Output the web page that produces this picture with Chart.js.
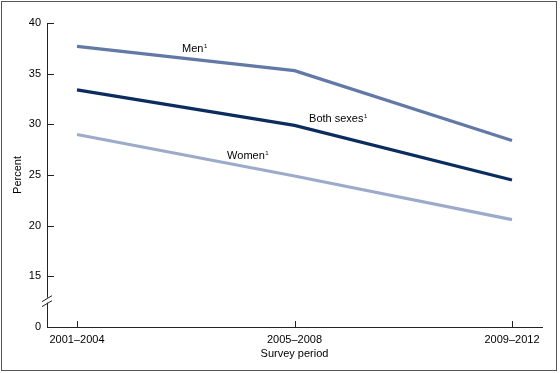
<!DOCTYPE html>
<html>
<head>
<meta charset="utf-8">
<script src="https://cdn.jsdelivr.net/npm/chart.js@4"></script>
<style>
  html, body { margin: 0; padding: 0; background: #fff; }
  #wrap { width: 560px; height: 373px; }
</style>
</head>
<body>
<div id="wrap"><canvas id="chart" width="560" height="373"></canvas></div>
<script>
// Percent by survey period, men / both sexes / women
const periods = ["2001–2004", "2005–2008", "2009–2012"];
const men = [37.7, 35.3, 28.4];
const both = [33.4, 29.9, 24.5];
const women = [29.0, 24.9, 20.6];
const yTicks = [10, 15, 20, 25, 30, 35, 40]; // 10 sits where the broken axis shows 0

const FONT = "'Liberation Sans', Arial, sans-serif";

function pts(vals) {
  return vals.map((v, i) => ({ x: i, y: v }));
}

// Series labels, placed in data units
const seriesLabels = [
  { text: "Men", x: 0.483, y: 37.43 },
  { text: "Both sexes", x: 1.067, y: 30.5 },
  { text: "Women", x: 0.69, y: 26.85 },
];

const decor = {
  id: "decor",
  afterDraw(chart) {
    const ctx = chart.ctx;
    const xs = chart.scales.x;
    const ys = chart.scales.y;
    const area = chart.chartArea;
    ctx.save();

    // frame
    ctx.strokeStyle = "#555";
    ctx.lineWidth = 1;
    ctx.strokeRect(1.5, 1.5, 555, 369);

    // inward ticks
    ctx.strokeStyle = "#222";
    ctx.beginPath();
    yTicks.forEach((v) => {
      if (v === 10) return;
      const y = Math.round(ys.getPixelForValue(v)) + 0.5;
      ctx.moveTo(area.left, y);
      ctx.lineTo(area.left + 7, y);
    });
    periods.forEach((p, i) => {
      const x = Math.round(xs.getPixelForValue(i)) + 0.5;
      ctx.moveTo(x, area.bottom);
      ctx.lineTo(x, area.bottom - 6);
    });
    ctx.stroke();

    // axis break
    const by = ys.getPixelForValue(12.6);
    ctx.fillStyle = "#fff";
    ctx.fillRect(area.left - 2, by - 3, 4, 5);
    ctx.beginPath();
    ctx.moveTo(area.left - 5, by + 1);
    ctx.lineTo(area.left + 5, by - 5);
    ctx.moveTo(area.left - 5, by + 6);
    ctx.lineTo(area.left + 5, by);
    ctx.stroke();

    // series labels with superscript 1
    ctx.fillStyle = "#000";
    ctx.textBaseline = "middle";
    ctx.textAlign = "left";
    seriesLabels.forEach((l) => {
      const x = xs.getPixelForValue(l.x);
      const y = ys.getPixelForValue(l.y);
      ctx.font = "11px " + FONT;
      ctx.fillText(l.text, x, y);
      const w = ctx.measureText(l.text).width;
      ctx.font = "6px " + FONT;
      ctx.fillText("1", x + w + 0.5, y - 3);
    });
    ctx.restore();
  },
};

new Chart(document.getElementById("chart"), {
  type: "line",
  data: {
    datasets: [
      { label: "Men", data: pts(men), borderColor: "#6278a6", borderWidth: 3.2 },
      { label: "Both sexes", data: pts(both), borderColor: "#0b2c5e", borderWidth: 3.2 },
      { label: "Women", data: pts(women), borderColor: "#9dabca", borderWidth: 3.2 },
    ],
  },
  options: {
    responsive: false,
    animation: false,
    layout: { padding: { top: 23, right: 18, left: 0, bottom: 0 } },
    elements: { point: { radius: 0 }, line: { tension: 0, borderCapStyle: "butt" } },
    plugins: { legend: { display: false }, tooltip: { enabled: false } },
    scales: {
      x: {
        type: "linear",
        min: -0.138,
        max: 2.138,
        afterBuildTicks: (s) => { s.ticks = periods.map((p, i) => ({ value: i })); },
        afterFit: (s) => { s.height = 46; },
        grid: { display: false, drawTicks: false },
        border: { display: true, color: "#222", width: 1 },
        ticks: {
          color: "#000",
          font: { family: FONT, size: 11 },
          padding: 6,
          maxRotation: 0,
          autoSkip: false,
          callback: (v) => periods[v] || "",
        },
        title: {
          display: true,
          text: "Survey period",
          color: "#000",
          font: { family: FONT, size: 11 },
          padding: { top: 0, bottom: 12 },
        },
      },
      y: {
        min: 10,
        max: 40,
        afterBuildTicks: (s) => { s.ticks = yTicks.map((v) => ({ value: v })); },
        afterFit: (s) => { s.width = 47; },
        grid: { display: false, drawTicks: false },
        border: { display: true, color: "#222", width: 1 },
        ticks: {
          color: "#000",
          font: { family: FONT, size: 11 },
          padding: 6,
          callback: (v) => (v === 10 ? "0" : String(v)),
        },
        title: {
          display: true,
          text: "Percent",
          color: "#000",
          font: { family: FONT, size: 11 },
          padding: { top: 11, bottom: 0 },
        },
      },
    },
  },
  plugins: [decor],
});
</script>
</body>
</html>
